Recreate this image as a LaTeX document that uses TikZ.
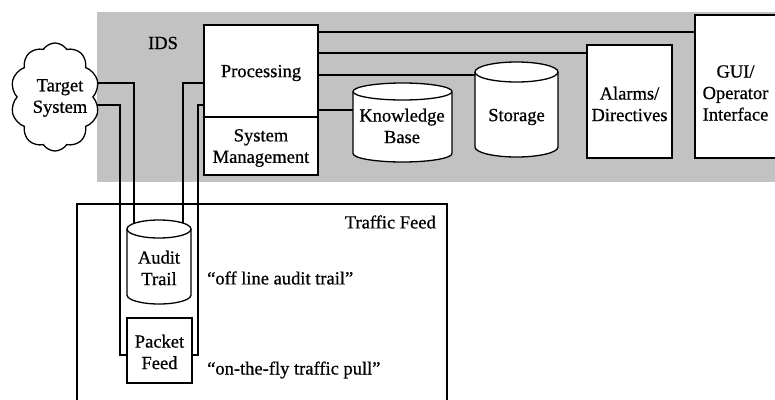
\documentclass[tikz,border=0pt]{standalone}
\usepackage{fontspec}
\setmainfont{Liberation Serif}
\newfontfamily\scanfont{Liberation Serif}[FakeBold=0.7]
\usetikzlibrary{shapes.symbols}
\pgfdeclarelayer{back}
\pgfdeclarelayer{mid}
\pgfsetlayers{back,mid,main}
\tikzset{
  ln/.style={line width=1.3pt},
  box/.style={draw, line width=1.3pt, fill=white, inner sep=0pt},
  txt/.style={font=\scanfont\fontsize{18.5}{21.5}\selectfont, align=center, inner sep=0pt},
  bggray/.style={fill=black!24}
}
% name, cx, top, bot, rx, ry
\newcommand\drumshape[6]{%
  \node[inner sep=0pt, minimum width=2*#5pt, minimum height=#4pt-#3pt] (#1) at (#2,{(#3+#4)/2}) {};
  \draw[ln, fill=white] ({#2-#5},{#3+#6}) -- ({#2-#5},{#4-#6})
     arc[start angle=180, end angle=0, x radius=#5, y radius=#6]
     -- ({#2+#5},{#3+#6})
     arc[start angle=0, end angle=-180, x radius=#5, y radius=#6] -- cycle;
  \draw[ln] ({#2-#5},{#3+#6}) arc[start angle=180, end angle=0, x radius=#5, y radius=#6];
}
\begin{document}
\begin{tikzpicture}[x=1pt, y=-1pt]
\useasboundingbox (0,0) rectangle (775,399);
\clip (0,0) rectangle (775,399);

% IDS background
\begin{pgfonlayer}{back}
  \node[bggray, inner sep=0pt, minimum width=678pt, minimum height=170pt] (idsbg) at (436,97) {};
\end{pgfonlayer}
\node[txt] (ids) at (163,43) {IDS};

% Boxes
\node[box, minimum width=114pt, minimum height=92pt] (proc) at (261,71) {};
\node[txt] (proct) at (261,73) {Processing};
\node[box, minimum width=114pt, minimum height=58pt] (sysm) at (261,146) {};
\node[txt] (sysmt) at (261,148) {System\\Management};
\node[box, minimum width=85pt, minimum height=113pt] (alarm) at (629.5,101.5) {};
\node[txt] (alarmt) at (629.5,104) {Alarms/\\Directives};
\node[box, minimum width=82pt, minimum height=143pt] (gui) at (736,86.5) {};
\node[txt] (guit) at (735.5,93) {GUI/\\Operator\\Interface};

% Cylinders
\drumshape{kb}{402.5}{83}{162}{49.5}{8.5}
\node[txt] (kbt) at (402,126) {Knowledge\\Base};
\drumshape{stor}{516.5}{62}{157}{41.5}{10}
\node[txt] (stort) at (516.5,117) {Storage};

% Target system cloud
\node[cloud, draw, ln, fill=white, cloud puffs=10, cloud puff arc=115, aspect=0.8,
      minimum width=89pt, minimum height=108pt, inner sep=0pt] (tgt) at (55,97) {};
\node[txt] (tgtt) at (60,98) {Target\\System};

% Traffic feed area
\node[draw, ln, inner sep=0pt, minimum width=370pt, minimum height=210pt] (tf) at (262,309) {};
\node[txt, anchor=east] (tft) at (436,222) {Traffic Feed};

\drumshape{aud}{159}{220}{304}{32}{9}
\node[txt] (audt) at (159,268) {Audit\\Trail};
\node[box, minimum width=65pt, minimum height=65pt] (pkt) at (159.5,350.5) {};
\node[txt] (pktt) at (159.5,352) {Packet\\Feed};

\node[txt, anchor=west] (l1) at (207,278) {“off line audit trail”};
\node[txt, anchor=west] (l2) at (207,370) {“on-the-fly traffic pull”};

% Connectors
\begin{pgfonlayer}{mid}
  \coordinate (r1) at (0,32);
  \coordinate (r2) at (0,53);
  \coordinate (r3) at (0,75);
  \coordinate (r4) at (0,110);
  \draw[ln] (proc.east |- r1) -- (gui.west |- r1);
  \draw[ln] (proc.east |- r2) -- (alarm.west |- r2);
  \draw[ln] (proc.east |- r3) -- (stor.west |- r3);
  \draw[ln] (proc.east |- r4) -- (kb.west |- r4);

  \coordinate (c1) at (134,83);
  \coordinate (c2) at (120,105);
  \coordinate (c3) at (183,83);
  \coordinate (c4) at (198,105);
  \coordinate (ub) at (0,355);
  \draw[ln] (tgt.center |- c1) -- (c1) -- (c1 |- aud.center);
  \draw[ln] (proc.west |- c3) -- (c3) -- (c3 |- aud.center);
  \draw[ln] (tgt.center |- c2) -- (c2) -- (c2 |- ub) -- (c4 |- ub) -- (c4) -- (proc.west |- c4);
\end{pgfonlayer}
\end{tikzpicture}
\end{document}
